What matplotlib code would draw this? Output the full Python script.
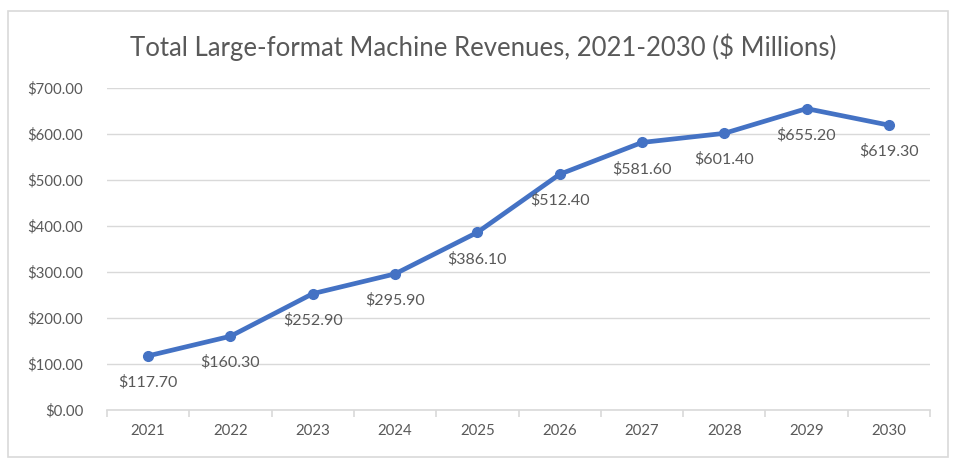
import matplotlib.pyplot as plt
from matplotlib.patches import Rectangle

# data
years = ["2021", "2022", "2023", "2024", "2025", "2026", "2027", "2028", "2029", "2030"]
revenue = [117.7, 160.3, 252.9, 295.9, 386.1, 512.4, 581.6, 601.4, 655.2, 619.3]
y_ticks = [0, 100, 200, 300, 400, 500, 600, 700]

plt.rcParams['font.family'] = ['Lato', 'DejaVu Sans']
txt = "#595959"
grid = "#D9D9D9"
blue = "#4472C4"

fig = plt.figure(figsize=(9.75, 4.61), dpi=100)
fig.patches.append(Rectangle((8/975, 1-457/461), 940/975, 446/461, transform=fig.transFigure,
                             fill=False, edgecolor=grid, linewidth=1.2))

ax = fig.add_axes([107/975, 1-410/461, (930-107)/975, (410-88)/461])
x = list(range(len(years)))
ax.plot(x, revenue, color=blue, linewidth=3.4, marker="o", markersize=7, zorder=3)

for xi, v in zip(x, revenue):
    ax.annotate(f"${v:,.2f}", (xi, v), xytext=(0, -19), textcoords="offset points",
                ha="center", va="center", fontsize=11.5, color=txt)

ax.set_xlim(-0.5, len(years) - 0.5)
ax.set_ylim(0, 700)
ax.set_yticks(y_ticks)
ax.set_yticklabels([f"${t:,.2f}" for t in y_ticks], fontsize=10.8, color=txt)
ax.set_xticks(x)
ax.set_xticklabels(years, fontsize=10.8, color=txt)
ax.set_xticks([i - 0.5 for i in range(len(years) + 1)], minor=True)
ax.tick_params(axis="x", which="major", length=0, pad=10)
ax.tick_params(axis="x", which="minor", length=5, color=grid, width=1.2)
ax.tick_params(axis="y", length=0, pad=17)
ax.grid(axis="y", color=grid, linewidth=1)
ax.set_axisbelow(True)
for s in ["top", "right", "left"]:
    ax.spines[s].set_visible(False)
ax.spines["bottom"].set_color(grid)
ax.spines["bottom"].set_linewidth(1.2)

fig.text(483/975, 1-47/461, "Total Large-format Machine Revenues, 2021-2030 ($ Millions)",
         ha="center", va="center", fontsize=18.5, color=txt)

fig.savefig("out.png", dpi=100)
